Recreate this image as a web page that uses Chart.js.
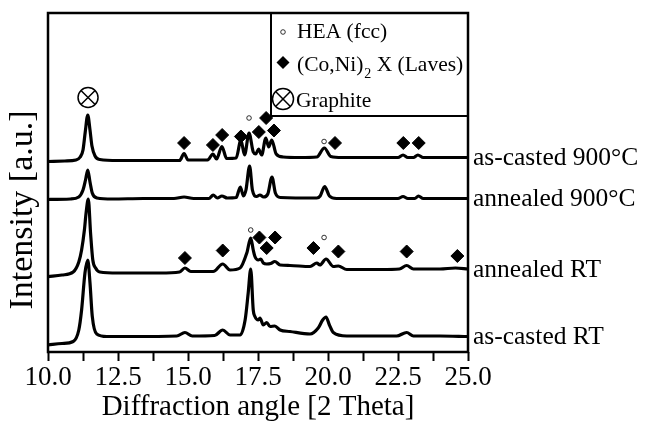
<!DOCTYPE html>
<html><head><meta charset="utf-8">
<script src="https://cdn.jsdelivr.net/npm/chart.js@4.4.1/dist/chart.umd.min.js"></script>
<style>html,body{margin:0;padding:0;background:#fff}</style>
</head><body>
<canvas id="c" width="646" height="425"></canvas>
<script>
// ---- data (x = 2θ, y = intensity a.u., stacked) ----
const sampleNames = ['as-casted 900°C', 'annealed 900°C', 'annealed RT', 'as-casted RT'];
const xTickLabels = ['10.0', '12.5', '15.0', '17.5', '20.0', '22.5', '25.0'];
const legendLabels = ['HEA (fcc)', '(Co,Ni)', '2', ' X (Laves)', 'Graphite'];
const xTitle = 'Diffraction angle [2 Theta]';
const yTitle = 'Intensity [a.u.]';

const asCasted900 = [[10.0,190.5],[10.6,191],[11.0,192],[11.15,195],[11.25,202],[11.33,220],[11.42,237],[11.5,222],[11.57,206],[11.68,196],[11.85,192.5],[12.5,191.5],[13.5,191.5],[14.7,191.5],[14.86,198.5],[15.0,192],[15.7,192],[15.89,198],[16.02,193],[16.21,205.5],[16.38,193.5],[16.72,194],[16.89,212],[17.02,197],[17.18,219],[17.33,200],[17.42,198],[17.52,203],[17.63,197],[17.78,214],[17.88,205],[17.99,212],[18.15,198],[18.4,195],[19.0,194.5],[19.6,195],[19.87,204],[20.1,195.5],[20.5,194.5],[22.5,194.5],[22.68,197],[22.85,194.5],[23.05,194.5],[23.21,197],[23.4,194.5],[25.0,194.5]];
const annealed900 = [[10.0,152.5],[10.8,153],[11.1,155],[11.25,162],[11.34,172],[11.42,182],[11.5,170],[11.58,159],[11.75,154],[12.3,153],[13.4,153.5],[14.5,153.5],[14.86,155],[15.2,153.5],[15.75,153.5],[15.9,157],[16.05,154],[16.21,156],[16.4,154],[16.72,154.5],[16.87,165],[16.98,156],[17.07,162],[17.2,186],[17.3,162],[17.45,155.5],[17.57,157],[17.7,155],[17.85,158],[18.0,175],[18.12,159],[18.3,154.5],[19.6,154],[19.72,156],[19.88,165.5],[20.05,156],[20.3,153.5],[22.5,153.5],[22.68,155.5],[22.85,153.5],[23.1,153.5],[23.23,156],[23.4,153.5],[25.0,153.5]];
const annealedRT = [[10.0,75.3],[10.5,77],[10.9,80],[11.1,90],[11.2,102],[11.3,122],[11.36,139],[11.44,153],[11.52,119],[11.6,92],[11.7,84],[11.85,80],[12.5,79],[14.0,79],[14.7,80],[14.89,84],[15.1,80.5],[15.9,80.5],[16.24,88],[16.5,82],[16.86,84],[17.1,99],[17.24,114],[17.33,102],[17.39,95.5],[17.51,92],[17.6,93],[17.69,89],[17.81,88],[17.95,88.5],[18.1,90.5],[18.29,87],[18.64,86.5],[19.36,85.5],[19.6,89],[19.71,87],[19.93,93],[20.19,85.5],[20.37,86],[20.67,82.5],[21.9,82.5],[22.55,83],[22.81,86.5],[23.05,83],[24.0,83],[24.55,84],[25.0,83]];
const asCastedRT = [[10.0,7],[10.5,8.5],[10.9,10.5],[11.1,22],[11.2,42],[11.32,79],[11.42,92],[11.5,69],[11.58,36],[11.74,18],[12.1,15.5],[13.0,15.5],[14.6,16],[14.89,19.5],[15.15,16],[15.95,16.5],[16.24,22],[16.5,17],[16.86,17],[17.04,32],[17.15,59],[17.24,83],[17.33,42],[17.39,35.5],[17.51,32],[17.57,34],[17.69,27],[17.81,29.5],[17.93,25.5],[18.1,26],[18.29,22],[18.64,20.5],[19.36,18],[19.65,24],[19.81,32],[19.93,35],[20.05,27],[20.19,19.5],[20.67,16],[22.45,16],[22.81,19.5],[23.05,16],[24.0,16],[25.0,15.5]];

// phase markers
const lavesMarks = [[14.86,209],[15.89,207],[16.22,217],[16.89,215.5],[17.53,220],[17.79,234],[18.07,221.5],[20.25,209],[22.69,209],[23.24,209],
                    [14.89,94],[16.24,101.5],[17.55,114.5],[17.81,104],[18.11,114.5],[19.48,104],[20.37,100.5],[22.81,100.5],[24.62,96]];
const heaMarks = [[17.18,234],[19.86,210.5],[17.24,122],[19.86,114.5]];
const graphiteMarks = [[11.43,254.5]];

const traces = [asCasted900, annealed900, annealedRT, asCastedRT];
const pts = a => a.map(([x, y]) => ({x, y}));
const FONT = '"Liberation Serif", "Times New Roman", serif';

const datasets = traces.map((t, i) => ({
  label: sampleNames[i], data: pts(t), type: 'line', borderColor: '#000', borderWidth: 3.2,
  pointRadius: 0, tension: 0.3, cubicInterpolationMode: 'monotone', fill: false, order: 2
}));
datasets.push({ label: 'laves', data: pts(lavesMarks), type: 'scatter', pointStyle: 'rectRot', pointRadius: 6.5,
  backgroundColor: '#000', borderColor: '#000', borderWidth: 1, order: 1 });
datasets.push({ label: 'hea', data: pts(heaMarks), type: 'scatter', pointStyle: 'circle', pointRadius: 2.3,
  backgroundColor: '#fff', borderColor: '#000', borderWidth: 0.8, order: 1 });
datasets.push({ label: 'graphiteCircle', data: pts(graphiteMarks), type: 'scatter', pointStyle: 'circle', pointRadius: 10,
  backgroundColor: 'rgba(0,0,0,0)', borderColor: '#000', borderWidth: 1.5, order: 1 });
datasets.push({ label: 'graphiteCross', data: pts(graphiteMarks), type: 'scatter', pointStyle: 'crossRot', pointRadius: 10,
  backgroundColor: '#000', borderColor: '#000', borderWidth: 1.5, order: 1 });

function drawOtimes(ctx, x, y, r) {
  ctx.beginPath(); ctx.arc(x, y, r, 0, Math.PI * 2); ctx.stroke();
  const d = r * Math.SQRT1_2;
  ctx.beginPath(); ctx.moveTo(x - d, y - d); ctx.lineTo(x + d, y + d);
  ctx.moveTo(x + d, y - d); ctx.lineTo(x - d, y + d); ctx.stroke();
}

const decor = {
  id: 'decor',
  afterDraw(chart) {
    const {ctx, chartArea: a, scales} = chart;
    ctx.save();
    // frame
    ctx.strokeStyle = '#000'; ctx.lineWidth = 2.5;
    ctx.strokeRect(a.left, a.top, a.right - a.left, a.bottom - a.top);
    // sample labels at the right end of each trace
    ctx.fillStyle = '#000'; ctx.font = '25.5px ' + FONT; ctx.textBaseline = 'middle'; ctx.textAlign = 'left';
    traces.forEach((t, i) => {
      const y = scales.y.getPixelForValue(t[t.length - 1][1]);
      ctx.fillText(sampleNames[i], a.right + 5, y + 1);
    });
    // y title
    ctx.save();
    ctx.translate(23, 210); ctx.rotate(-Math.PI / 2);
    ctx.font = '34px ' + FONT; ctx.textAlign = 'center'; ctx.textBaseline = 'middle';
    ctx.fillText(yTitle, 0, 0);
    ctx.restore();
    // legend box
    const bx = 271, by = a.top, bw = a.right - 271, bh = 103;
    ctx.lineWidth = 2; ctx.strokeRect(bx, by, bw, bh);
    ctx.font = '21.5px ' + FONT; ctx.textBaseline = 'middle'; ctx.textAlign = 'left';
    // HEA
    ctx.lineWidth = 0.8; ctx.fillStyle = '#fff';
    ctx.beginPath(); ctx.arc(283, by + 19, 2.3, 0, Math.PI * 2); ctx.fill(); ctx.stroke();
    ctx.fillStyle = '#000';
    ctx.fillText(legendLabels[0], 297, by + 19);
    // Laves
    ctx.beginPath(); ctx.moveTo(283, by + 43); ctx.lineTo(289.5, by + 49.5); ctx.lineTo(283, by + 56); ctx.lineTo(276.5, by + 49.5); ctx.closePath(); ctx.fill();
    let x = 297;
    ctx.fillText(legendLabels[1], x, by + 52); x += ctx.measureText(legendLabels[1]).width;
    ctx.font = '14px ' + FONT; ctx.fillText(legendLabels[2], x + 1, by + 61); x += ctx.measureText(legendLabels[2]).width + 1;
    ctx.font = '21.5px ' + FONT; ctx.fillText(legendLabels[3], x, by + 52);
    // Graphite
    ctx.lineWidth = 1.5; ctx.strokeStyle = '#000';
    drawOtimes(ctx, 283, by + 86, 10.5);
    ctx.fillText(legendLabels[4], 296, by + 88);
    ctx.restore();
  }
};

new Chart(document.getElementById('c'), {
  type: 'line',
  data: { datasets },
  options: {
    responsive: false, animation: false, devicePixelRatio: 1,
    layout: { padding: { left: 0, right: 178, top: 13, bottom: 0 } },
    plugins: { legend: { display: false }, tooltip: { enabled: false } },
    scales: {
      x: {
        type: 'linear', min: 10, max: 25,
        afterFit: s => { s.height = 73; },
        border: { display: false },
        grid: { drawOnChartArea: false, drawTicks: true, tickLength: 9, tickWidth: 2, tickColor: '#000' },
        ticks: {
          stepSize: 1.25, autoSkip: false, maxRotation: 0, padding: 1, color: '#000',
          font: { family: FONT, size: 27 },
          callback: v => { const k = v / 2.5; return Math.abs(k - Math.round(k)) < 1e-6 ? xTickLabels[Math.round(k) - 4] : ''; }
        },
        title: { display: true, text: xTitle, color: '#000', font: { family: FONT, size: 29 }, padding: 0 }
      },
      y: {
        min: 0, max: 339,
        afterFit: s => { s.width = 48; },
        border: { display: false }, grid: { display: false }, ticks: { display: false }
      }
    }
  },
  plugins: [decor]
});
</script>
</body></html>
